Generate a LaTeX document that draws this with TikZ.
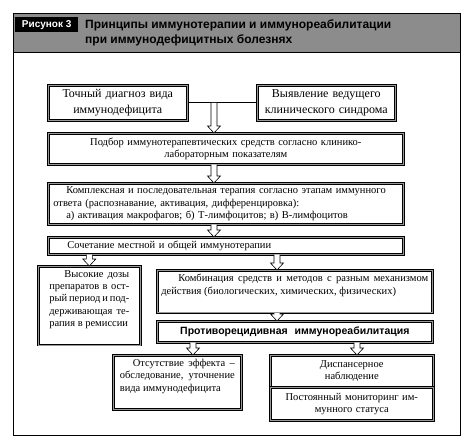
\documentclass[tikz,border=0pt]{standalone}
\usepackage{fontspec}
\setmainfont{Liberation Serif}
\newfontfamily\headfont{Liberation Sans}
\usetikzlibrary{calc}

\begin{document}
\begin{tikzpicture}[x=1pt,y=-1pt,
  box/.style={draw, line width=0.6pt, double=black!40, double distance=1.3pt,
    inner xsep=5pt, inner ysep=2pt, anchor=north west,
    font=\fontsize{10.5}{12.3}\selectfont},
  hollow/.style={draw, line width=0.6pt, fill=white, to path={let \p1=(\tikztostart), \p2=(\tikztotarget) in
    (\x1-3pt,\y1) -- (\x1-3pt,\y2+7pt) -- (\x1-6.5pt,\y2+7pt) -- (\x1,\y2)
    -- (\x1+6.5pt,\y2+7pt) -- (\x1+3pt,\y2+7pt) -- (\x1+3pt,\y1)}}]
\useasboundingbox (0,0) rectangle (474,445);
% frame and heading
\fill[black!45] (13,13) rectangle (460,52);
\draw[line width=1pt] (13,13) rectangle (460,435);
\draw[line width=1pt] (13,52) -- (460,52);
\node[fill=black, text=white, inner sep=0pt, minimum width=63pt, minimum height=15pt,
  anchor=north west, font=\headfont\bfseries\fontsize{10}{12}\selectfont] (fig) at (15,17) {Рисунок 3};
\node[anchor=north west, align=left, inner sep=0pt,
  font=\headfont\bfseries\fontsize{12}{15.5}\selectfont] (title) at (85,19)
  {Принципы иммунотерапии и иммунореабилитации\\при иммунодефицитных болезнях};

% boxes
\node[box, text width=133pt, inner xsep=3pt, minimum height=35pt, align=center,
  font=\fontsize{12}{15.5}\selectfont] (diag) at (48,85) {Точный диагноз вида\\иммунодефицита};
\node[box, text width=132pt, inner xsep=3pt, minimum height=35pt, align=center,
  font=\fontsize{12}{15.5}\selectfont] (synd) at (257,85) {Выявление ведущего\\клинического синдрома};
\node[box, text width=345pt, minimum height=31pt, align=center] (sel) at (48,133)
  {Подбор иммунотерапевтических средств согласно клинико-\\лабораторным показателям};
\node[box, text width=345pt, minimum height=41pt, align=left] (compl) at (48,183)
  {\hspace*{13pt}Комплексная и последовательная терапия согласно этапам иммунного\\
   ответа (распознавание, активация, дифференцировка):\\
   \hspace*{13pt}а) активация макрофагов; б) Т-лимфоцитов; в) В-лимфоцитов};
\node[box, text width=345pt, minimum height=17pt, align=left] (comb) at (48,237)
  {\hspace*{14pt}Сочетание местной и общей иммунотерапии};
\node[box, text width=80pt, inner xsep=11pt, inner ysep=4pt, text depth=64pt, align=justify] (dose) at (38,266)
  {\parfillskip=0pt\hspace*{15pt}Высокие дозы\linebreak препаратов в ост-\linebreak
   рый период и под-\linebreak держивающая те-\linebreak рапия в ремиссии};
\node[box, text width=267pt, inner xsep=4pt, inner ysep=4pt, text depth=27pt, align=justify] (mech) at (157,270)
  {\hspace*{17pt}Комбинация средств и методов с разным механизмом\linebreak
   действия (биологических, химических, физических)};
\node[box, text width=267pt, inner xsep=4pt, minimum height=21pt, align=center,
  font=\headfont\bfseries\fontsize{10.5}{12}\selectfont] (rehab) at (157,321)
  {Противорецидивная\ \ иммунореабилитация};
\node[box, text width=115pt, inner xsep=6.5pt, inner ysep=4pt, text depth=39pt, align=justify] (absent) at (113,355)
  {\hspace*{13pt}Отсутствие эффекта --\linebreak обследование, уточнение\linebreak вида иммунодефицита};
\node[box, text width=153pt, minimum height=32pt, align=center] (disp) at (270,355)
  {Диспансерное\\наблюдение};
\node[box, text width=153pt, minimum height=33pt, align=center] (monit) at (270,387)
  {Постоянный мониторинг им-\\мунного статуса};

% connectors
\draw[line width=1pt] (diag) -- (synd);
\path (diag.east) -- (synd.west) coordinate[pos=0.38] (ab);
\coordinate (g) at (277,0);
\coordinate (i) at (193,0);
\coordinate (j) at (357,0);
\draw[hollow] (ab) to (ab |- sel.north);
\draw[hollow] (sel.south -| ab) to (compl.north -| ab);
\draw[hollow] (compl.south -| ab) to (comb.north -| ab);
\draw[hollow] (comb.south -| dose.north) to (dose.north);
\draw[hollow] (comb.south -| g) to (mech.north -| g);
\draw[hollow] (mech.south -| g) to (rehab.north -| g);
\draw[hollow] (rehab.south -| i) to (absent.north -| i);
\draw[hollow] (rehab.south -| j) to (disp.north -| j);
\end{tikzpicture}
\end{document}
